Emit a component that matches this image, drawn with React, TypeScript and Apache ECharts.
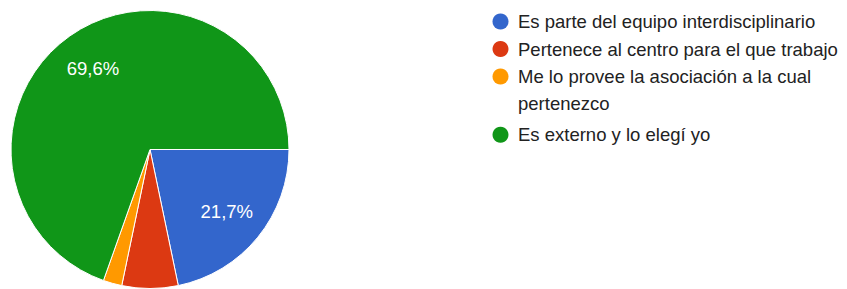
import React, { useEffect, useRef } from 'react';
import * as echarts from 'echarts';

const categories = [
  'Es parte del equipo interdisciplinario',
  'Pertenece al centro para el que trabajo',
  'Me lo provee la asociación a la cual pertenezco',
  'Es externo y lo elegí yo',
];
const counts = [10, 3, 1, 32];
const colors = ['#3366cc', '#dc3912', '#ff9900', '#109618'];

export default function App() {
  const ref = useRef<HTMLDivElement>(null);
  useEffect(() => {
    document.body.style.margin = '0';
    const chart = echarts.init(ref.current!, null, { renderer: 'svg' });
    const total = counts.reduce((a, b) => a + b, 0);
    const font = "'Liberation Sans', Arial, sans-serif";
    const data = categories.map((name, i) => ({ name, value: counts[i], itemStyle: { color: colors[i] } }));
    const legendBase = {
      orient: 'vertical',
      left: 492.5,
      padding: 0,
      itemGap: 0.5,
      itemWidth: 25,
      itemHeight: 16,
      icon: 'circle',
      selectedMode: false,
      itemStyle: { borderWidth: 0 },
      formatter: (name: string) => `{t|${name}}`,
      textStyle: {
        fontFamily: font,
        fontSize: 18.5,
        color: '#222',
        lineHeight: 27,
        height: 27,
        width: 340,
        overflow: 'break',
        rich: {
          t: { fontFamily: font, fontSize: 18.5, color: '#222', lineHeight: 27 },
        },
      },
    };
    chart.setOption({
      animation: false,
      color: colors,
      legend: [
        { ...legendBase, top: 8, data: categories.slice(0, 3) },
        { ...legendBase, top: 121.3, data: categories.slice(3) },
      ],
      series: [
        {
          type: 'pie',
          center: [150, 149.5],
          radius: [0, 139],
          startAngle: 0,
          clockwise: true,
          data,
          label: { show: false },
          labelLine: { show: false },
          itemStyle: { borderColor: '#fff', borderWidth: 1 },
          emphasis: { disabled: true },
        },
        {
          type: 'pie',
          center: [150, 149.5],
          radius: [53, 139],
          startAngle: 0,
          clockwise: true,
          silent: true,
          data: categories.map((name, i) => ({ name, value: counts[i] })),
          itemStyle: { color: 'rgba(0,0,0,0)', borderWidth: 0 },
          label: {
            show: true,
            position: 'inside',
            color: '#fff',
            fontFamily: font,
            fontSize: 18.5,
            formatter: (p: any) => {
              const frac = p.value / total;
              return frac >= 0.1 ? (frac * 100).toFixed(1).replace('.', ',') + '%' : '';
            },
          },
          labelLine: { show: false },
          emphasis: { disabled: true },
        },
      ],
    });
    return () => chart.dispose();
  }, []);
  return <div ref={ref} style={{ width: 847, height: 289 }} />;
}
